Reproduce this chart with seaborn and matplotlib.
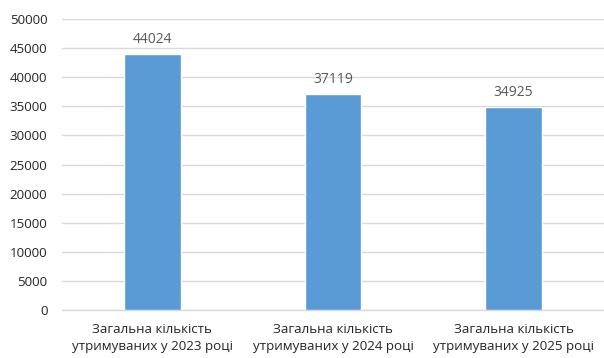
import matplotlib
matplotlib.use("Agg")
import matplotlib.pyplot as plt
import seaborn as sns
import pandas as pd

categories = [
    "Загальна кількість\nутримуваних у 2023 році",
    "Загальна кількість\nутримуваних у 2024 році",
    "Загальна кількість\nутримуваних у 2025 році",
]
values = [44024, 37119, 34925]
y_ticks = list(range(0, 50001, 5000))

sns.set_theme(style="white")
plt.rcParams["font.family"] = ["Open Sans", "DejaVu Sans"]

df = pd.DataFrame({"category": categories, "value": values})

fig = plt.figure(figsize=(6.04, 3.58), dpi=100)
ax = fig.add_axes([0.1026, 0.134, 0.8974, 0.813])

sns.barplot(data=df, x="category", y="value", color="#5B9BD5",
            width=0.315, saturation=1, ax=ax, zorder=3)

ax.set_ylim(0, 50000)
ax.set_yticks(y_ticks)
ax.set_yticklabels([str(t) for t in y_ticks], fontsize=9.6, color="#262626")
ax.set_xlim(-0.5, 2.5)
ax.set_xlabel("")
ax.set_ylabel("")
ax.set_xticks(range(len(categories)))
ax.set_xticklabels(categories, fontsize=9.6, color="#262626", linespacing=1.45)
ax.tick_params(axis="x", length=0, pad=9)
ax.tick_params(axis="y", length=0, pad=10.5)
ax.grid(axis="y", color="#d9d9d9", linewidth=1, zorder=0)
for side in ["left", "right", "top"]:
    ax.spines[side].set_visible(False)
ax.spines["bottom"].set_color("#d9d9d9")
ax.spines["bottom"].set_linewidth(1)

for container in ax.containers:
    ax.bar_label(container, labels=[str(v) for v in values], padding=5,
                 fontsize=10, color="#595959")

fig.savefig("out.png", dpi=100)
